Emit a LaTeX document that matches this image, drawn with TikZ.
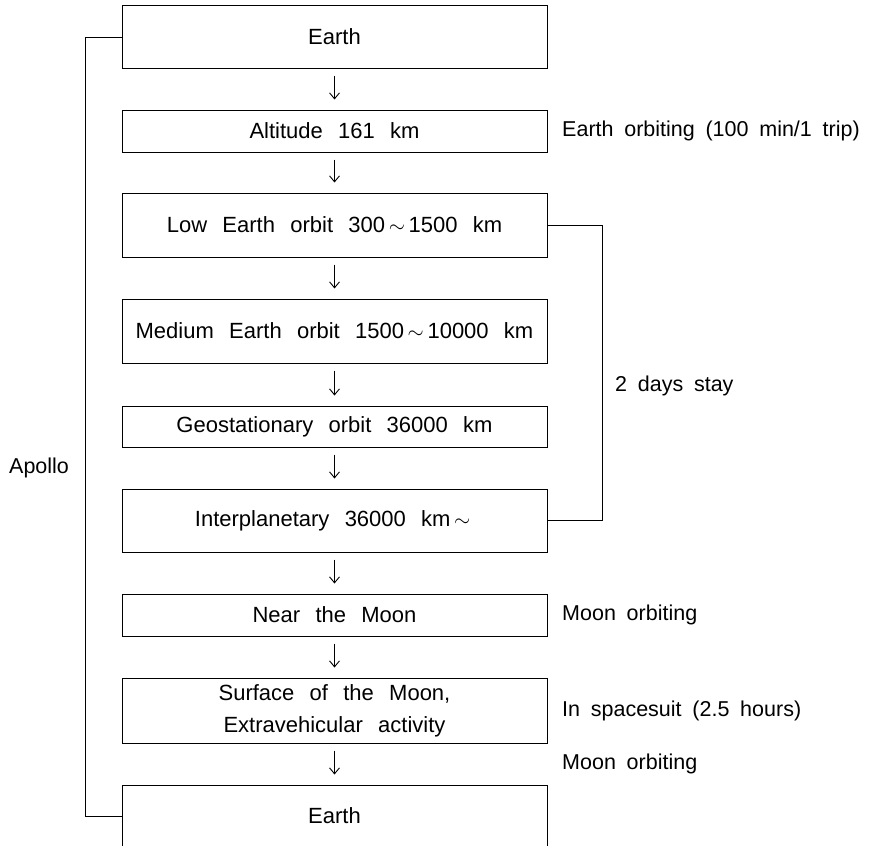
\documentclass[tikz,border=0pt]{standalone}
\usepackage{fontspec}
\setmainfont[WordSpace=2.5]{Liberation Sans}
\newfontfamily\notefont[WordSpace=1.8]{Liberation Sans}
\usetikzlibrary{arrows.meta}
\newcommand{\tld}{\,$\sim$\,}

\tikzset{
  stage/.style={draw, line width=1pt, minimum width=425pt, inner sep=0pt, align=center, font=\fontsize{22}{31.7}\selectfont},
  flow/.style={-{Straight Barb[length=6pt,width=10pt]}, line width=0.9pt, shorten <=7pt, shorten >=10pt},
  note/.style={anchor=west, inner sep=0pt, font=\notefont\fontsize{21.5}{27}\selectfont},
  brace/.style={line width=1pt}
}

\begin{document}
\begin{tikzpicture}[x=1pt,y=-1pt]
\useasboundingbox (0,0) rectangle (876,846);
\node[stage, minimum height=62.5pt] (earth) at (334.5,37) {Earth};
\node[stage, minimum height=42pt] (alt) at (334.5,131) {Altitude 161 km};
\node[stage, minimum height=64pt] (leo) at (334.5,225) {Low Earth orbit 300\tld1500 km};
\node[stage, minimum height=64pt] (meo) at (334.5,331) {Medium Earth orbit 1500\tld10000 km};
\node[stage, minimum height=41pt] (geo) at (334.5,426.5) {Geostationary orbit 36000 km};
\node[stage, minimum height=63pt] (ipl) at (334.5,520.5) {Interplanetary 36000 km\tld};
\node[stage, minimum height=42pt] (near) at (334.5,615) {Near the Moon};
\node[stage, minimum height=65pt] (surf) at (334.5,710.5) {Surface of the Moon,\\Extravehicular activity};
\node[stage, minimum height=62pt] (back) at (334.5,816) {Earth};
\foreach \a/\b in {earth/alt, alt/leo, leo/meo, meo/geo, geo/ipl, ipl/near, near/surf, surf/back}
  \draw[flow] (\a) -- (\b);
\draw[brace] (earth.west) -- ++(-36.5,0) |- (back.west);
\draw[brace] (leo.east) -- ++(55,0) |- (ipl.east);
\node[note] (orbit) at (562,131) {Earth orbiting (100 min/1 trip)};
\node[note] (stay) at (615,386) {2 days stay};
\node[note] (moon) at (562,615) {Moon orbiting};
\node[note] (suit) at (562,711) {In spacesuit (2.5 hours)};
\node[note] (moonb) at (562,764) {Moon orbiting};
\node[note] (apollo) at (9,468) {Apollo};
\end{tikzpicture}
\end{document}
